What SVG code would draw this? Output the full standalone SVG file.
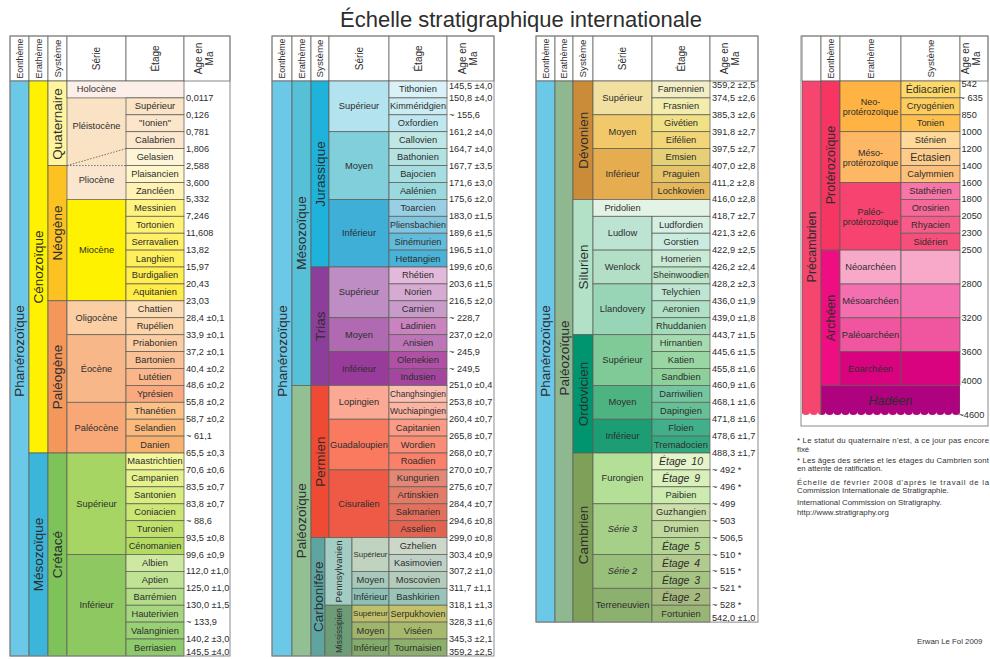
<svg xmlns="http://www.w3.org/2000/svg" width="990" height="659" viewBox="0 0 990 659">
<style>
text{font-family:"Liberation Sans",Arial,Helvetica,sans-serif;fill:#2d2d2d}
.c{stroke:#5f5f58;stroke-width:0.75}
.hd{fill:#fff;stroke:#5f5f58;stroke-width:0.75}
.fr{fill:none;stroke:#8a8a8a;stroke-width:1}
.t{font-size:9.3px;text-anchor:middle;dominant-baseline:central}
.sm{font-size:7.8px;text-anchor:middle;dominant-baseline:central}
.a{font-size:9.2px;dominant-baseline:central}
.v{font-size:13.5px;text-anchor:middle;dominant-baseline:central}
.h{font-size:8.5px;text-anchor:middle;dominant-baseline:central}
.hb{font-size:10px;text-anchor:middle;dominant-baseline:central}
.it{font-style:italic;font-size:10.5px;word-spacing:2px}
.itl{font-style:italic}
.n{font-size:7.8px;fill:#333}
.dot{stroke:#555;stroke-width:0.8;stroke-dasharray:1.6 1.4;fill:none}
</style>
<defs>
<clipPath id="wave-clip">
<path d="M802,81H960V412a3.95,3 0 0 1 -7.9,0a3.95,3 0 0 1 -7.9,0a3.95,3 0 0 1 -7.9,0a3.95,3 0 0 1 -7.9,0a3.95,3 0 0 1 -7.9,0a3.95,3 0 0 1 -7.9,0a3.95,3 0 0 1 -7.9,0a3.95,3 0 0 1 -7.9,0a3.95,3 0 0 1 -7.9,0a3.95,3 0 0 1 -7.9,0a3.95,3 0 0 1 -7.9,0a3.95,3 0 0 1 -7.9,0a3.95,3 0 0 1 -7.9,0a3.95,3 0 0 1 -7.9,0a3.95,3 0 0 1 -7.9,0a3.95,3 0 0 1 -7.9,0a3.95,3 0 0 1 -7.9,0a3.95,3 0 0 1 -7.9,0a3.95,3 0 0 1 -7.9,0a3.95,3 0 0 1 -7.9,0Z"/>
</clipPath>
</defs>
<rect width="990" height="659" fill="#fff"/>
<text id="title" x="521" y="27" font-size="22" text-anchor="middle" fill="#222">Échelle stratigraphique internationale</text>

<!-- ===== Column 1 : Cénozoïque / Crétacé ===== -->
<g id="table-1">
<g id="t1-header">
<rect class="hd" x="10" y="36" width="19" height="45"/><rect class="hd" x="29" y="36" width="19" height="45"/><rect class="hd" x="48" y="36" width="19" height="45"/><rect class="hd" x="67" y="36" width="59" height="45"/><rect class="hd" x="126" y="36" width="58" height="45"/><rect class="hd" x="184" y="36" width="46" height="45"/>
<text class="h" transform="translate(19.5 58.5) rotate(-90)" textLength="40" lengthAdjust="spacingAndGlyphs">Eonthème</text>
<text class="h" transform="translate(38.5 58.5) rotate(-90)" textLength="40" lengthAdjust="spacingAndGlyphs">Erathème</text>
<text class="h" transform="translate(57.5 58.5) rotate(-90)" textLength="38" lengthAdjust="spacingAndGlyphs">Système</text>
<text class="hb" transform="translate(96.5 58.5) rotate(-90)">Série</text>
<text class="hb" transform="translate(155 58.5) rotate(-90)">Étage</text>
<text class="hb" transform="translate(198.5 58.5) rotate(-90)">Age en</text>
<text class="hb" transform="translate(209.5 58.5) rotate(-90)">Ma</text>
</g>
<g id="ser-pleistocene"><rect x="67" y="97.9" width="59" height="67.7" fill="#FAE3C5"/><text class="t" x="96.5" y="126">Pléistocène</text></g>
<g id="ser-pliocene"><rect x="67" y="165.6" width="59" height="33.8" fill="#FAE6CF"/><text class="t" x="96.5" y="180">Pliocène</text></g>
<g id="eon-phanerozoic-1"><rect class="c" x="10" y="81" width="19" height="575" fill="#6CC8E7"/><text class="v" transform="translate(19.5 351) rotate(-90)">Phanérozoïque</text></g>
<g id="era-cenozoic"><rect class="c" x="29" y="81" width="19" height="372" fill="#FFF200"/><text class="v" transform="translate(38.5 267) rotate(-90)">Cénozoïque</text></g>
<g id="era-mesozoic-1"><rect class="c" x="29" y="453" width="19" height="203" fill="#3BB5D9"/><text class="v" fill="#143a60" transform="translate(38.5 554.5) rotate(-90)">Mésozoïque</text></g>
<g id="sys-quaternary"><rect class="c" x="48" y="81" width="19" height="84.6" fill="#FFF59E"/><text class="v" transform="translate(57.5 124) rotate(-90)">Quaternaire</text></g>
<g id="sys-neogene"><rect class="c" x="48" y="165.6" width="19" height="135.2" fill="#FBC222"/><text class="v" transform="translate(57.5 233) rotate(-90)">Néogène</text></g>
<g id="sys-paleogene"><rect class="c" x="48" y="300.8" width="19" height="152.2" fill="#F4975B"/><text class="v" transform="translate(57.5 377) rotate(-90)">Paléogène</text></g>
<g id="sys-cretaceous"><rect class="c" x="48" y="453" width="19" height="203" fill="#7DC35A"/><text class="v" fill="#1f4416" transform="translate(57.5 554.5) rotate(-90)">Crétacé</text></g>
<g id="ser-holocene"><rect class="c" x="67" y="81" width="117" height="16.9" fill="#FCEFE9"/><text class="t" x="96.5" y="89.45">Holocène</text></g>
<g id="ser-miocene"><rect class="c" x="67" y="199.4" width="59" height="101.4" fill="#FFF200"/><text class="t" x="96.5" y="250.1">Miocène</text></g>
<g id="ser-oligocene"><rect class="c" x="67" y="300.8" width="59" height="33.9" fill="#FBCFA3"/><text class="t" x="96.5" y="317.75">Oligocène</text></g>
<g id="ser-eocene"><rect class="c" x="67" y="334.7" width="59" height="67.6" fill="#F8B789"/><text class="t" x="96.5" y="368.5">Éocène</text></g>
<g id="ser-paleocene"><rect class="c" x="67" y="402.3" width="59" height="50.7" fill="#F8A877"/><text class="t" x="96.5" y="427.65">Paléocène</text></g>
<g id="ser-cretaceous-upper"><rect class="c" x="67" y="453" width="59" height="101.5" fill="#A6D563"/><text class="t" x="96.5" y="503.75">Supérieur</text></g>
<g id="ser-cretaceous-lower"><rect class="c" x="67" y="554.5" width="59" height="101.5" fill="#8DC860"/><text class="t" x="96.5" y="605.25">Inférieur</text></g>
<g id="st-upper-pleistocene"><rect class="c" x="126" y="97.9" width="58" height="16.9" fill="#FBE3C6"/><text class="t" x="155" y="106.35">Supérieur</text></g>
<g id="st-ionian"><rect class="c" x="126" y="114.8" width="58" height="16.9" fill="#FBE5CB"/><text class="t" x="155" y="123.25">&quot;Ionien&quot;</text></g>
<g id="st-calabrian"><rect class="c" x="126" y="131.7" width="58" height="16.9" fill="#FCE7CF"/><text class="t" x="155" y="140.15">Calabrien</text></g>
<g id="st-gelasian"><rect class="c" x="126" y="148.6" width="58" height="17" fill="#FEF5D8"/><text class="t" x="155" y="157.1">Gelasien</text></g>
<g id="st-piacenzian"><rect class="c" x="126" y="165.6" width="58" height="16.9" fill="#FFF7C9"/><text class="t" x="155" y="174.05">Plaisancien</text></g>
<g id="st-zanclean"><rect class="c" x="126" y="182.5" width="58" height="16.9" fill="#FFF2B4"/><text class="t" x="155" y="190.95">Zancléen</text></g>
<g id="st-messinian"><rect class="c" x="126" y="199.4" width="58" height="16.9" fill="#FFF380"/><text class="t" x="155" y="207.85">Messinien</text></g>
<g id="st-tortonian"><rect class="c" x="126" y="216.3" width="58" height="16.9" fill="#FFF272"/><text class="t" x="155" y="224.75">Tortonien</text></g>
<g id="st-serravallian"><rect class="c" x="126" y="233.2" width="58" height="16.9" fill="#FFF065"/><text class="t" x="155" y="241.65">Serravalien</text></g>
<g id="st-langhian"><rect class="c" x="126" y="250.1" width="58" height="16.9" fill="#FFEF5A"/><text class="t" x="155" y="258.55">Langhien</text></g>
<g id="st-burdigalian"><rect class="c" x="126" y="267" width="58" height="16.9" fill="#FFEE4E"/><text class="t" x="155" y="275.45">Burdigalien</text></g>
<g id="st-aquitanian"><rect class="c" x="126" y="283.9" width="58" height="16.9" fill="#FFEC44"/><text class="t" x="155" y="292.35">Aquitanien</text></g>
<g id="st-chattian"><rect class="c" x="126" y="300.8" width="58" height="16.9" fill="#FDDDB6"/><text class="t" x="155" y="309.25">Chattien</text></g>
<g id="st-rupelian"><rect class="c" x="126" y="317.7" width="58" height="17" fill="#FCD4A8"/><text class="t" x="155" y="326.2">Rupélien</text></g>
<g id="st-priabonian"><rect class="c" x="126" y="334.7" width="58" height="16.9" fill="#FCCCA2"/><text class="t" x="155" y="343.15">Priabonien</text></g>
<g id="st-bartonian"><rect class="c" x="126" y="351.6" width="58" height="16.9" fill="#FBC196"/><text class="t" x="155" y="360.05">Bartonien</text></g>
<g id="st-lutetian"><rect class="c" x="126" y="368.5" width="58" height="16.9" fill="#FAB58A"/><text class="t" x="155" y="376.95">Lutétien</text></g>
<g id="st-ypresian"><rect class="c" x="126" y="385.4" width="58" height="16.9" fill="#F8A97F"/><text class="t" x="155" y="393.85">Yprésien</text></g>
<g id="st-thanetian"><rect class="c" x="126" y="402.3" width="58" height="16.9" fill="#FBC186"/><text class="t" x="155" y="410.75">Thanétien</text></g>
<g id="st-selandian"><rect class="c" x="126" y="419.2" width="58" height="16.9" fill="#FBB97B"/><text class="t" x="155" y="427.65">Selandien</text></g>
<g id="st-danian"><rect class="c" x="126" y="436.1" width="58" height="16.9" fill="#FAB170"/><text class="t" x="155" y="444.55">Danien</text></g>
<g id="st-maastrichtian"><rect class="c" x="126" y="453" width="58" height="16.9" fill="#F2F799"/><text class="t" x="155" y="461.45">Maastrichtien</text></g>
<g id="st-campanian"><rect class="c" x="126" y="469.9" width="58" height="16.9" fill="#E5F28B"/><text class="t" x="155" y="478.35">Campanien</text></g>
<g id="st-santonian"><rect class="c" x="126" y="486.8" width="58" height="17" fill="#D9EC80"/><text class="t" x="155" y="495.3">Santonien</text></g>
<g id="st-coniacian"><rect class="c" x="126" y="503.8" width="58" height="16.9" fill="#CCE676"/><text class="t" x="155" y="512.25">Coniacien</text></g>
<g id="st-turonian"><rect class="c" x="126" y="520.7" width="58" height="16.9" fill="#BFE16B"/><text class="t" x="155" y="529.15">Turonien</text></g>
<g id="st-cenomanian"><rect class="c" x="126" y="537.6" width="58" height="16.9" fill="#B3DB62"/><text class="t" x="155" y="546.05">Cénomanien</text></g>
<g id="st-albian"><rect class="c" x="126" y="554.5" width="58" height="16.9" fill="#CDE8A1"/><text class="t" x="155" y="562.95">Albien</text></g>
<g id="st-aptian"><rect class="c" x="126" y="571.4" width="58" height="16.9" fill="#C0E294"/><text class="t" x="155" y="579.85">Aptien</text></g>
<g id="st-barremian"><rect class="c" x="126" y="588.3" width="58" height="16.9" fill="#B3DC89"/><text class="t" x="155" y="596.75">Barrémien</text></g>
<g id="st-hauterivian"><rect class="c" x="126" y="605.2" width="58" height="16.9" fill="#A6D67F"/><text class="t" x="155" y="613.65">Hauterivien</text></g>
<g id="st-valanginian"><rect class="c" x="126" y="622.1" width="58" height="16.9" fill="#99D075"/><text class="t" x="155" y="630.55">Valanginien</text></g>
<g id="st-berriasian"><rect class="c" x="126" y="639" width="58" height="17" fill="#8CCA6B"/><text class="t" x="155" y="647.5">Berriasien</text></g>
<g id="boundary-lines">
<line class="dot" x1="67" y1="165.6" x2="126" y2="165.6"/>
<line class="dot" x1="67" y1="165.6" x2="126" y2="148.6"/>
</g>
<rect class="fr" x="10" y="36" width="220" height="620"/>
<g id="t1-ages">
<text class="a" x="186" y="97.9">0,0117</text><text class="a" x="186" y="114.8">0,126</text><text class="a" x="186" y="131.7">0,781</text><text class="a" x="186" y="148.6">1,806</text><text class="a" x="186" y="165.6">2,588</text><text class="a" x="186" y="182.5">3,600</text><text class="a" x="186" y="199.4">5,332</text><text class="a" x="186" y="216.3">7,246</text><text class="a" x="186" y="233.2">11,608</text><text class="a" x="186" y="250.1">13,82</text><text class="a" x="186" y="267">15,97</text><text class="a" x="186" y="283.9">20,43</text><text class="a" x="186" y="300.8">23,03</text><text class="a" x="186" y="317.7">28,4 ±0,1</text><text class="a" x="186" y="334.7">33,9 ±0,1</text><text class="a" x="186" y="351.6">37,2 ±0,1</text><text class="a" x="186" y="368.5">40,4 ±0,2</text><text class="a" x="186" y="385.4">48,6 ±0,2</text><text class="a" x="186" y="402.3">55,8 ±0,2</text><text class="a" x="186" y="419.2">58,7 ±0,2</text><text class="a" x="186" y="436.1">~ 61,1</text><text class="a" x="186" y="453">65,5 ±0,3</text><text class="a" x="186" y="469.9">70,6 ±0,6</text><text class="a" x="186" y="486.8">83,5 ±0,7</text><text class="a" x="186" y="503.8">83,8 ±0,7</text><text class="a" x="186" y="520.7">~ 88,6</text><text class="a" x="186" y="537.6">93,5 ±0,8</text><text class="a" x="186" y="554.5">99,6 ±0,9</text><text class="a" x="186" y="571.4">112,0 ±1,0</text><text class="a" x="186" y="588.3">125,0 ±1,0</text><text class="a" x="186" y="605.2">130,0 ±1,5</text><text class="a" x="186" y="622.1">~ 133,9</text><text class="a" x="186" y="639">140,2 ±3,0</text><text class="a" x="186" y="651.5">145,5 ±4,0</text>
</g>
</g>

<!-- ===== Column 2 : Jurassique → Carbonifère ===== -->
<g id="table-2">
<g id="t2-header">
<rect class="hd" x="272" y="36" width="20" height="45"/><rect class="hd" x="292" y="36" width="19" height="45"/><rect class="hd" x="311" y="36" width="18" height="45"/><rect class="hd" x="329" y="36" width="60" height="45"/><rect class="hd" x="389" y="36" width="58" height="45"/><rect class="hd" x="447" y="36" width="47" height="45"/>
<text class="h" transform="translate(282 58.5) rotate(-90)" textLength="40" lengthAdjust="spacingAndGlyphs">Eonthème</text>
<text class="h" transform="translate(301.5 58.5) rotate(-90)" textLength="40" lengthAdjust="spacingAndGlyphs">Erathème</text>
<text class="h" transform="translate(320 58.5) rotate(-90)" textLength="38" lengthAdjust="spacingAndGlyphs">Système</text>
<text class="hb" transform="translate(359 58.5) rotate(-90)">Série</text>
<text class="hb" transform="translate(418 58.5) rotate(-90)">Étage</text>
<text class="hb" transform="translate(462 58.5) rotate(-90)">Age en</text>
<text class="hb" transform="translate(473 58.5) rotate(-90)">Ma</text>
</g>
<g id="eon-phanerozoic-2"><rect class="c" x="272" y="81" width="20" height="575" fill="#6CC8E7"/><text class="v" transform="translate(282 351) rotate(-90)">Phanérozoïque</text></g>
<g id="era-mesozoic-2"><rect class="c" x="292" y="81" width="19" height="304.4" fill="#55C0D6"/><text class="v" fill="#143a60" transform="translate(301.5 233) rotate(-90)">Mésozoïque</text></g>
<g id="era-paleozoic-2"><rect class="c" x="292" y="385.4" width="19" height="270.6" fill="#93C093"/><text class="v" fill="#263a24" transform="translate(301.5 520.7) rotate(-90)">Paléozoïque</text></g>
<g id="sys-jurassic"><rect class="c" x="311" y="81" width="18" height="186" fill="#1FB3DB"/><text class="v" fill="#0d3852" transform="translate(320 174) rotate(-90)">Jurassique</text></g>
<g id="sys-triassic"><rect class="c" x="311" y="267" width="18" height="118.4" fill="#8D3E9B"/><text class="v" fill="#2a0d33" transform="translate(320 326.2) rotate(-90)">Trias</text></g>
<g id="sys-permian"><rect class="c" x="311" y="385.4" width="18" height="152.2" fill="#EF4A33"/><text class="v" fill="#4a0f08" transform="translate(320 461.5) rotate(-90)">Permien</text></g>
<g id="sys-carboniferous"><rect class="c" x="311" y="537.6" width="14" height="118.4" fill="#5EA5A1"/><text class="v" fill="#123c3c" transform="translate(318.2 596.8) rotate(-90)">Carbonifère</text></g>
<g id="sub-pennsylvanian"><rect class="c" x="325" y="537.6" width="27" height="67.6" fill="#A3CDC3"/><text class="h" transform="translate(338.5 571.4) rotate(-90)" textLength="62" lengthAdjust="spacingAndGlyphs">Pennsylvanien</text></g>
<g id="sub-mississippian"><rect class="c" x="325" y="605.2" width="27" height="50.8" fill="#6C9D76"/><text class="h" transform="translate(338.5 630.6) rotate(-90)" textLength="45" lengthAdjust="spacingAndGlyphs">Mississipien</text></g>
<g id="ser-jurassic-upper"><rect class="c" x="329" y="81" width="60" height="50.7" fill="#B3E3EF"/><text class="t" x="359" y="106.35">Supérieur</text></g>
<g id="ser-jurassic-middle"><rect class="c" x="329" y="131.7" width="60" height="67.7" fill="#80CFDB"/><text class="t" x="359" y="165.55">Moyen</text></g>
<g id="ser-jurassic-lower"><rect class="c" x="329" y="199.4" width="60" height="67.6" fill="#3FAFD8"/><text class="t" x="359" y="233.2">Inférieur</text></g>
<g id="ser-triassic-upper"><rect class="c" x="329" y="267" width="60" height="50.7" fill="#BE8DC4"/><text class="t" x="359" y="292.35">Supérieur</text></g>
<g id="ser-triassic-middle"><rect class="c" x="329" y="317.7" width="60" height="33.9" fill="#B06AB2"/><text class="t" x="359" y="334.65">Moyen</text></g>
<g id="ser-triassic-lower"><rect class="c" x="329" y="351.6" width="60" height="33.8" fill="#983B9A"/><text class="t" x="359" y="368.5">Inférieur</text></g>
<g id="ser-lopingian"><rect class="c" x="329" y="385.4" width="60" height="33.8" fill="#FBA894"/><text class="t" x="359" y="402.3">Lopingien</text></g>
<g id="ser-guadalupian"><rect class="c" x="329" y="419.2" width="60" height="50.7" fill="#FA7A60"/><text class="t" x="359" y="444.5">Guadaloupien</text></g>
<g id="ser-cisuralian"><rect class="c" x="329" y="469.9" width="60" height="67.7" fill="#EF5A47"/><text class="t" x="359" y="503.75">Cisuralien</text></g>
<g id="ser-penn-upper"><rect class="c" x="352" y="537.6" width="37" height="33.8" fill="#C0D3C0"/><text class="sm" x="370.5" y="554.5">Supérieur</text></g>
<g id="ser-penn-middle"><rect class="c" x="352" y="571.4" width="37" height="16.9" fill="#A6C9BB"/><text class="t" x="370.5" y="579.85">Moyen</text></g>
<g id="ser-penn-lower"><rect class="c" x="352" y="588.3" width="37" height="16.9" fill="#8DC0B6"/><text class="t" x="370.5" y="596.75">Inférieur</text></g>
<g id="ser-miss-upper"><rect class="c" x="352" y="605.2" width="37" height="16.9" fill="#BEBF6B"/><text class="sm" x="370.5" y="613.65" textLength="35" lengthAdjust="spacingAndGlyphs">Supérieur</text></g>
<g id="ser-miss-middle"><rect class="c" x="352" y="622.1" width="37" height="16.9" fill="#9FB56C"/><text class="t" x="370.5" y="630.55">Moyen</text></g>
<g id="ser-miss-lower"><rect class="c" x="352" y="639" width="37" height="17" fill="#83AC6C"/><text class="t" x="370.5" y="647.5">Inférieur</text></g>
<g id="st-tithonian"><rect class="c" x="389" y="81" width="58" height="16.9" fill="#D9F1F7"/><text class="t" x="418" y="89.45">Tithonien</text></g>
<g id="st-kimmeridgian"><rect class="c" x="389" y="97.9" width="58" height="16.9" fill="#CCECF4"/><text class="t" x="418" y="106.35" textLength="56" lengthAdjust="spacingAndGlyphs">Kimméridgien</text></g>
<g id="st-oxfordian"><rect class="c" x="389" y="114.8" width="58" height="16.9" fill="#BFE7F1"/><text class="t" x="418" y="123.25">Oxfordien</text></g>
<g id="st-callovian"><rect class="c" x="389" y="131.7" width="58" height="16.9" fill="#BFE7E5"/><text class="t" x="418" y="140.15">Callovien</text></g>
<g id="st-bathonian"><rect class="c" x="389" y="148.6" width="58" height="17" fill="#B3E2E3"/><text class="t" x="418" y="157.1">Bathonien</text></g>
<g id="st-bajocian"><rect class="c" x="389" y="165.6" width="58" height="16.9" fill="#A6DDE0"/><text class="t" x="418" y="174.05">Bajocien</text></g>
<g id="st-aalenian"><rect class="c" x="389" y="182.5" width="58" height="16.9" fill="#9AD9DD"/><text class="t" x="418" y="190.95">Aalénien</text></g>
<g id="st-toarcian"><rect class="c" x="389" y="199.4" width="58" height="16.9" fill="#99CFE5"/><text class="t" x="418" y="207.85">Toarcien</text></g>
<g id="st-pliensbachian"><rect class="c" x="389" y="216.3" width="58" height="16.9" fill="#80C6E0"/><text class="t" x="418" y="224.75" textLength="56" lengthAdjust="spacingAndGlyphs">Pliensbachien</text></g>
<g id="st-sinemurian"><rect class="c" x="389" y="233.2" width="58" height="16.9" fill="#63BBDB"/><text class="t" x="418" y="241.65">Sinémurien</text></g>
<g id="st-hettangian"><rect class="c" x="389" y="250.1" width="58" height="16.9" fill="#48B2D7"/><text class="t" x="418" y="258.55">Hettangien</text></g>
<g id="st-rhaetian"><rect class="c" x="389" y="267" width="58" height="16.9" fill="#E3B9DB"/><text class="t" x="418" y="275.45">Rhétien</text></g>
<g id="st-norian"><rect class="c" x="389" y="283.9" width="58" height="16.9" fill="#D6AAD3"/><text class="t" x="418" y="292.35">Norien</text></g>
<g id="st-carnian"><rect class="c" x="389" y="300.8" width="58" height="16.9" fill="#C99BCB"/><text class="t" x="418" y="309.25">Carnien</text></g>
<g id="st-ladinian"><rect class="c" x="389" y="317.7" width="58" height="17" fill="#C983BF"/><text class="t" x="418" y="326.2">Ladinien</text></g>
<g id="st-anisian"><rect class="c" x="389" y="334.7" width="58" height="16.9" fill="#BC75B7"/><text class="t" x="418" y="343.15">Anisien</text></g>
<g id="st-olenekian"><rect class="c" x="389" y="351.6" width="58" height="16.9" fill="#B051A5"/><text class="t" x="418" y="360.05">Olenekien</text></g>
<g id="st-induan"><rect class="c" x="389" y="368.5" width="58" height="16.9" fill="#A4469F"/><text class="t" x="418" y="376.95">Indusien</text></g>
<g id="st-changhsingian"><rect class="c" x="389" y="385.4" width="58" height="16.9" fill="#FCC0B2"/><text class="t" x="418" y="393.85" textLength="56" lengthAdjust="spacingAndGlyphs">Changhsingien</text></g>
<g id="st-wuchiapingian"><rect class="c" x="389" y="402.3" width="58" height="16.9" fill="#FCB4A2"/><text class="t" x="418" y="410.75" textLength="56" lengthAdjust="spacingAndGlyphs">Wuchiapingien</text></g>
<g id="st-capitanian"><rect class="c" x="389" y="419.2" width="58" height="16.9" fill="#FB9A85"/><text class="t" x="418" y="427.65">Capitanien</text></g>
<g id="st-wordian"><rect class="c" x="389" y="436.1" width="58" height="16.9" fill="#FB8D76"/><text class="t" x="418" y="444.55">Wordien</text></g>
<g id="st-roadian"><rect class="c" x="389" y="453" width="58" height="16.9" fill="#FB8069"/><text class="t" x="418" y="461.45">Roadien</text></g>
<g id="st-kungurian"><rect class="c" x="389" y="469.9" width="58" height="16.9" fill="#E38776"/><text class="t" x="418" y="478.35">Kungurien</text></g>
<g id="st-artinskian"><rect class="c" x="389" y="486.8" width="58" height="17" fill="#E37B68"/><text class="t" x="418" y="495.3">Artinskien</text></g>
<g id="st-sakmarian"><rect class="c" x="389" y="503.8" width="58" height="16.9" fill="#E36F5C"/><text class="t" x="418" y="512.25">Sakmarien</text></g>
<g id="st-asselian"><rect class="c" x="389" y="520.7" width="58" height="16.9" fill="#E36350"/><text class="t" x="418" y="529.15">Asselien</text></g>
<g id="st-gzhelian"><rect class="c" x="389" y="537.6" width="58" height="16.9" fill="#CCD6C9"/><text class="t" x="418" y="546.05">Gzhelien</text></g>
<g id="st-kasimovian"><rect class="c" x="389" y="554.5" width="58" height="16.9" fill="#BFD1C7"/><text class="t" x="418" y="562.95">Kasimovien</text></g>
<g id="st-moscovian"><rect class="c" x="389" y="571.4" width="58" height="16.9" fill="#B3CCBC"/><text class="t" x="418" y="579.85">Moscovien</text></g>
<g id="st-bashkirian"><rect class="c" x="389" y="588.3" width="58" height="16.9" fill="#99C4B8"/><text class="t" x="418" y="596.75">Bashkirien</text></g>
<g id="st-serpukhovian"><rect class="c" x="389" y="605.2" width="58" height="16.9" fill="#C3C26B"/><text class="t" x="418" y="613.65" textLength="55" lengthAdjust="spacingAndGlyphs">Serpukhovien</text></g>
<g id="st-visean"><rect class="c" x="389" y="622.1" width="58" height="16.9" fill="#A6B96C"/><text class="t" x="418" y="630.55">Viséen</text></g>
<g id="st-tournaisian"><rect class="c" x="389" y="639" width="58" height="17" fill="#8CB06C"/><text class="t" x="418" y="647.5">Tournaisien</text></g>
<rect class="fr" x="272" y="36" width="222" height="620"/>
<g id="t2-ages">
<text class="a" x="449" y="86">145,5 ±4,0</text><text class="a" x="449" y="97.9">150,8 ±4,0</text><text class="a" x="449" y="114.8">~ 155,6</text><text class="a" x="449" y="131.7">161,2 ±4,0</text><text class="a" x="449" y="148.6">164,7 ±4,0</text><text class="a" x="449" y="165.6">167,7 ±3,5</text><text class="a" x="449" y="182.5">171,6 ±3,0</text><text class="a" x="449" y="199.4">175,6 ±2,0</text><text class="a" x="449" y="216.3">183,0 ±1,5</text><text class="a" x="449" y="233.2">189,6 ±1,5</text><text class="a" x="449" y="250.1">196,5 ±1,0</text><text class="a" x="449" y="267">199,6 ±0,6</text><text class="a" x="449" y="283.9">203,6 ±1,5</text><text class="a" x="449" y="300.8">216,5 ±2,0</text><text class="a" x="449" y="317.7">~ 228,7</text><text class="a" x="449" y="334.7">237,0 ±2,0</text><text class="a" x="449" y="351.6">~ 245,9</text><text class="a" x="449" y="368.5">~ 249,5</text><text class="a" x="449" y="385.4">251,0 ±0,4</text><text class="a" x="449" y="402.3">253,8 ±0,7</text><text class="a" x="449" y="419.2">260,4 ±0,7</text><text class="a" x="449" y="436.1">265,8 ±0,7</text><text class="a" x="449" y="453">268,0 ±0,7</text><text class="a" x="449" y="469.9">270,0 ±0,7</text><text class="a" x="449" y="486.8">275,6 ±0,7</text><text class="a" x="449" y="503.8">284,4 ±0,7</text><text class="a" x="449" y="520.7">294,6 ±0,8</text><text class="a" x="449" y="537.6">299,0 ±0,8</text><text class="a" x="449" y="554.5">303,4 ±0,9</text><text class="a" x="449" y="571.4">307,2 ±1,0</text><text class="a" x="449" y="588.3">311,7 ±1,1</text><text class="a" x="449" y="605.2">318,1 ±1,3</text><text class="a" x="449" y="622.1">328,3 ±1,6</text><text class="a" x="449" y="639">345,3 ±2,1</text><text class="a" x="449" y="651.5">359,2 ±2,5</text>
</g>
</g>

<!-- ===== Column 3 : Dévonien → Cambrien ===== -->
<g id="table-3">
<g id="t3-header">
<rect class="hd" x="536" y="36" width="19" height="45"/><rect class="hd" x="555" y="36" width="18" height="45"/><rect class="hd" x="573" y="36" width="20" height="45"/><rect class="hd" x="593" y="36" width="59" height="45"/><rect class="hd" x="652" y="36" width="58" height="45"/><rect class="hd" x="710" y="36" width="48" height="45"/>
<text class="h" transform="translate(545.5 58.5) rotate(-90)" textLength="40" lengthAdjust="spacingAndGlyphs">Eonthème</text>
<text class="h" transform="translate(564 58.5) rotate(-90)" textLength="40" lengthAdjust="spacingAndGlyphs">Erathème</text>
<text class="h" transform="translate(583 58.5) rotate(-90)" textLength="38" lengthAdjust="spacingAndGlyphs">Système</text>
<text class="hb" transform="translate(622.5 58.5) rotate(-90)">Série</text>
<text class="hb" transform="translate(681 58.5) rotate(-90)">Étage</text>
<text class="hb" transform="translate(724 58.5) rotate(-90)">Age en</text>
<text class="hb" transform="translate(735 58.5) rotate(-90)">Ma</text>
</g>
<g id="eon-phanerozoic-3"><rect class="c" x="536" y="81" width="19" height="541.1" fill="#6CC8E7"/><text class="v" transform="translate(545.5 351) rotate(-90)">Phanérozoïque</text></g>
<g id="era-paleozoic-3"><rect class="c" x="555" y="81" width="18" height="541.1" fill="#8FB890"/><text class="v" fill="#263a24" transform="translate(564 358) rotate(-90)">Paléozoïque</text></g>
<g id="sys-devonian"><rect class="c" x="573" y="81" width="20" height="118.4" fill="#CB8C39"/><text class="v" fill="#3d2406" transform="translate(583 140.2) rotate(-90)">Dévonien</text></g>
<g id="sys-silurian"><rect class="c" x="573" y="199.4" width="20" height="135.3" fill="#B3E1C7"/><text class="v" transform="translate(583 267) rotate(-90)">Silurien</text></g>
<g id="sys-ordovician"><rect class="c" x="573" y="334.7" width="20" height="118.3" fill="#00946F"/><text class="v" fill="#053d2c" transform="translate(583 393.9) rotate(-90)">Ordovicien</text></g>
<g id="sys-cambrian"><rect class="c" x="573" y="453" width="20" height="169.1" fill="#7FA059"/><text class="v" fill="#23331a" transform="translate(583 535) rotate(-90)">Cambrien</text></g>
<g id="ser-devonian-upper"><rect class="c" x="593" y="81" width="59" height="33.8" fill="#F1E0A0"/><text class="t" x="622.5" y="97.9">Supérieur</text></g>
<g id="ser-devonian-middle"><rect class="c" x="593" y="114.8" width="59" height="33.8" fill="#F1C86A"/><text class="t" x="622.5" y="131.7">Moyen</text></g>
<g id="ser-devonian-lower"><rect class="c" x="593" y="148.6" width="59" height="50.8" fill="#E5AC50"/><text class="t" x="622.5" y="174">Inférieur</text></g>
<g id="ser-pridoli"><rect class="c" x="593" y="199.4" width="117" height="16.9" fill="#E3F4E6"/><text class="t" x="622.5" y="207.85">Pridolien</text></g>
<g id="ser-ludlow"><rect class="c" x="593" y="216.3" width="59" height="33.8" fill="#BDE4D3"/><text class="t" x="622.5" y="233.2">Ludlow</text></g>
<g id="ser-wenlock"><rect class="c" x="593" y="250.1" width="59" height="33.8" fill="#B2DFC6"/><text class="t" x="622.5" y="267">Wenlock</text></g>
<g id="ser-llandovery"><rect class="c" x="593" y="283.9" width="59" height="50.8" fill="#98D5B6"/><text class="t" x="622.5" y="309.3">Llandovery</text></g>
<g id="ser-ordovician-upper"><rect class="c" x="593" y="334.7" width="59" height="50.7" fill="#80CA97"/><text class="t" x="622.5" y="360.05">Supérieur</text></g>
<g id="ser-ordovician-middle"><rect class="c" x="593" y="385.4" width="59" height="33.8" fill="#4DB481"/><text class="t" x="622.5" y="402.3">Moyen</text></g>
<g id="ser-ordovician-lower"><rect class="c" x="593" y="419.2" width="59" height="33.8" fill="#1C9D73"/><text class="t" x="622.5" y="436.1">Inférieur</text></g>
<g id="ser-furongian"><rect class="c" x="593" y="453" width="59" height="50.8" fill="#B3E096"/><text class="t" x="622.5" y="478.4">Furongien</text></g>
<g id="ser-series-3"><rect class="c" x="593" y="503.8" width="59" height="50.7" fill="#A6CF87"/><text class="t itl" x="622.5" y="529.15">Série 3</text></g>
<g id="ser-series-2"><rect class="c" x="593" y="554.5" width="59" height="33.8" fill="#99C07A"/><text class="t itl" x="622.5" y="571.4">Série 2</text></g>
<g id="ser-terreneuvian"><rect class="c" x="593" y="588.3" width="59" height="33.8" fill="#8CB06D"/><text class="t" x="622.5" y="605.2">Terreneuvien</text></g>
<g id="st-famennian"><rect class="c" x="652" y="81" width="58" height="16.9" fill="#F2EDC5"/><text class="t" x="681" y="89.45">Famennien</text></g>
<g id="st-frasnian"><rect class="c" x="652" y="97.9" width="58" height="16.9" fill="#F2EDAD"/><text class="t" x="681" y="106.35">Frasnien</text></g>
<g id="st-givetian"><rect class="c" x="652" y="114.8" width="58" height="16.9" fill="#F1E185"/><text class="t" x="681" y="123.25">Givétien</text></g>
<g id="st-eifelian"><rect class="c" x="652" y="131.7" width="58" height="16.9" fill="#F1D576"/><text class="t" x="681" y="140.15">Eifélien</text></g>
<g id="st-emsian"><rect class="c" x="652" y="148.6" width="58" height="17" fill="#E5D075"/><text class="t" x="681" y="157.1">Emsien</text></g>
<g id="st-pragian"><rect class="c" x="652" y="165.6" width="58" height="16.9" fill="#E5C468"/><text class="t" x="681" y="174.05">Praguien</text></g>
<g id="st-lochkovian"><rect class="c" x="652" y="182.5" width="58" height="16.9" fill="#E5B75A"/><text class="t" x="681" y="190.95">Lochkovien</text></g>
<g id="st-ludfordian"><rect class="c" x="652" y="216.3" width="58" height="16.9" fill="#D6EFE3"/><text class="t" x="681" y="224.75">Ludfordien</text></g>
<g id="st-gorstian"><rect class="c" x="652" y="233.2" width="58" height="16.9" fill="#CAEBDF"/><text class="t" x="681" y="241.65">Gorstien</text></g>
<g id="st-homerian"><rect class="c" x="652" y="250.1" width="58" height="16.9" fill="#C9EAD5"/><text class="t" x="681" y="258.55">Homerien</text></g>
<g id="st-sheinwoodian"><rect class="c" x="652" y="267" width="58" height="16.9" fill="#BDE5CA"/><text class="t" x="681" y="275.45" textLength="56" lengthAdjust="spacingAndGlyphs">Sheinwoodien</text></g>
<g id="st-telychian"><rect class="c" x="652" y="283.9" width="58" height="16.9" fill="#BDE5D2"/><text class="t" x="681" y="292.35">Telychien</text></g>
<g id="st-aeronian"><rect class="c" x="652" y="300.8" width="58" height="16.9" fill="#B0E0C6"/><text class="t" x="681" y="309.25">Aeronien</text></g>
<g id="st-rhuddanian"><rect class="c" x="652" y="317.7" width="58" height="17" fill="#A4DBBB"/><text class="t" x="681" y="326.2">Rhuddanien</text></g>
<g id="st-hirnantian"><rect class="c" x="652" y="334.7" width="58" height="16.9" fill="#A6DBAF"/><text class="t" x="681" y="343.15">Hirnantien</text></g>
<g id="st-katian"><rect class="c" x="652" y="351.6" width="58" height="16.9" fill="#99D6A4"/><text class="t" x="681" y="360.05">Katien</text></g>
<g id="st-sandbian"><rect class="c" x="652" y="368.5" width="58" height="16.9" fill="#8CD09A"/><text class="t" x="681" y="376.95">Sandbien</text></g>
<g id="st-darriwilian"><rect class="c" x="652" y="385.4" width="58" height="16.9" fill="#74C6A0"/><text class="t" x="681" y="393.85">Darriwilien</text></g>
<g id="st-dapingian"><rect class="c" x="652" y="402.3" width="58" height="16.9" fill="#66C096"/><text class="t" x="681" y="410.75">Dapingien</text></g>
<g id="st-floian"><rect class="c" x="652" y="419.2" width="58" height="16.9" fill="#41B08A"/><text class="t" x="681" y="427.65">Floien</text></g>
<g id="st-tremadocian"><rect class="c" x="652" y="436.1" width="58" height="16.9" fill="#33A981"/><text class="t" x="681" y="444.55">Tremadocien</text></g>
<g id="st-stage-10"><rect class="c" x="652" y="453" width="58" height="16.9" fill="#E6F5C9"/><text class="t it" x="681" y="461.45">Étage 10</text></g>
<g id="st-stage-9"><rect class="c" x="652" y="469.9" width="58" height="16.9" fill="#D9F0BB"/><text class="t it" x="681" y="478.35">Étage 9</text></g>
<g id="st-paibian"><rect class="c" x="652" y="486.8" width="58" height="17" fill="#CCEBAE"/><text class="t" x="681" y="495.3">Paibien</text></g>
<g id="st-guzhangian"><rect class="c" x="652" y="503.8" width="58" height="16.9" fill="#CCDFAA"/><text class="t" x="681" y="512.25">Guzhangien</text></g>
<g id="st-drumian"><rect class="c" x="652" y="520.7" width="58" height="16.9" fill="#BFD99D"/><text class="t" x="681" y="529.15">Drumien</text></g>
<g id="st-stage-5"><rect class="c" x="652" y="537.6" width="58" height="16.9" fill="#B3D492"/><text class="t it" x="681" y="546.05">Étage 5</text></g>
<g id="st-stage-4"><rect class="c" x="652" y="554.5" width="58" height="16.9" fill="#B3CA8E"/><text class="t it" x="681" y="562.95">Étage 4</text></g>
<g id="st-stage-3"><rect class="c" x="652" y="571.4" width="58" height="16.9" fill="#A6C583"/><text class="t it" x="681" y="579.85">Étage 3</text></g>
<g id="st-stage-2"><rect class="c" x="652" y="588.3" width="58" height="16.9" fill="#A6BA80"/><text class="t it" x="681" y="596.75">Étage 2</text></g>
<g id="st-fortunian"><rect class="c" x="652" y="605.2" width="58" height="16.9" fill="#99B575"/><text class="t" x="681" y="613.65">Fortunien</text></g>
<rect class="fr" x="536" y="36" width="222" height="586.1"/>
<g id="t3-ages">
<text class="a" x="712" y="85">359,2 ±2,5</text><text class="a" x="712" y="97.9">374,5 ±2,6</text><text class="a" x="712" y="114.8">385,3 ±2,6</text><text class="a" x="712" y="131.7">391,8 ±2,7</text><text class="a" x="712" y="148.6">397,5 ±2,7</text><text class="a" x="712" y="165.6">407,0 ±2,8</text><text class="a" x="712" y="182.5">411,2 ±2,8</text><text class="a" x="712" y="199.4">416,0 ±2,8</text><text class="a" x="712" y="216.3">418,7 ±2,7</text><text class="a" x="712" y="233.2">421,3 ±2,6</text><text class="a" x="712" y="250.1">422,9 ±2,5</text><text class="a" x="712" y="267">426,2 ±2,4</text><text class="a" x="712" y="283.9">428,2 ±2,3</text><text class="a" x="712" y="300.8">436,0 ±1,9</text><text class="a" x="712" y="317.7">439,0 ±1,8</text><text class="a" x="712" y="334.7">443,7 ±1,5</text><text class="a" x="712" y="351.6">445,6 ±1,5</text><text class="a" x="712" y="368.5">455,8 ±1,6</text><text class="a" x="712" y="385.4">460,9 ±1,6</text><text class="a" x="712" y="402.3">468,1 ±1,6</text><text class="a" x="712" y="419.2">471,8 ±1,6</text><text class="a" x="712" y="436.1">478,6 ±1,7</text><text class="a" x="712" y="453">488,3 ±1,7</text><text class="a" x="712" y="469.9">~ 492 *</text><text class="a" x="712" y="486.8">~ 496 *</text><text class="a" x="712" y="503.8">~ 499</text><text class="a" x="712" y="520.7">~ 503</text><text class="a" x="712" y="537.6">~ 506,5</text><text class="a" x="712" y="554.5">~ 510 *</text><text class="a" x="712" y="571.4">~ 515 *</text><text class="a" x="712" y="588.3">~ 521 *</text><text class="a" x="712" y="605.2">~ 528 *</text><text class="a" x="712" y="617.5">542,0 ±1,0</text>
</g>
</g>

<!-- ===== Column 4 : Précambrien ===== -->
<g id="table-4">
<g id="t4-header">
<rect class="hd" x="802" y="36" width="19" height="45"/><rect class="hd" x="821" y="36" width="19" height="45"/><rect class="hd" x="840" y="36" width="61" height="45"/><rect class="hd" x="901" y="36" width="59" height="45"/><rect class="hd" x="960" y="36" width="28" height="45"/>
<text class="h" transform="translate(830.5 58.5) rotate(-90)" textLength="40" lengthAdjust="spacingAndGlyphs">Eonthème</text>
<text class="h" transform="translate(870.5 58.5) rotate(-90)" textLength="40" lengthAdjust="spacingAndGlyphs">Erathème</text>
<text class="h" transform="translate(930.5 58.5) rotate(-90)" textLength="38" lengthAdjust="spacingAndGlyphs">Système</text>
<text class="hb" transform="translate(965 58.5) rotate(-90)">Age en</text>
<text class="hb" transform="translate(976 58.5) rotate(-90)">Ma</text>
</g>
<g clip-path="url(#wave-clip)">
<g id="eon-precambrian"><rect class="c" x="802" y="81" width="19" height="345" fill="#F5466F"/></g>
<g id="eon-hadean"><rect class="c" x="821" y="385.4" width="139" height="40" fill="#AE027E"/></g>
</g>
<text class="v" font-size="12.5" fill="#3d0a1a" transform="translate(811.5 247) rotate(-90)" style="font-size:12.5px">Précambrien</text>
<text id="label-hadean" x="890.5" y="401" text-anchor="middle" dominant-baseline="central" font-size="12.5" font-style="italic" fill="#640a4e">Hadéen</text>
<g id="eon-proterozoic"><rect class="c" x="821" y="81" width="19" height="169.1" fill="#F73563"/><text class="v" fill="#3d0a1a" style="font-size:12.5px" transform="translate(830.5 165) rotate(-90)">Protérozoïque</text></g>
<g id="eon-archean"><rect class="c" x="821" y="250.1" width="19" height="135.3" fill="#EE0E82"/><text class="v" fill="#3d0a2a" style="font-size:12.5px" transform="translate(830.5 318) rotate(-90)">Archéen</text></g>
<g id="era-neoproterozoic"><rect class="c" x="840" y="81" width="61" height="50.7" fill="#FEB342"/><text class="t" x="870.5" y="101.5" style="font-size:9px">Neo-</text><text class="t" x="870.5" y="111.5" style="font-size:9px">protérozoïque</text></g>
<g id="era-mesoproterozoic"><rect class="c" x="840" y="131.7" width="61" height="50.8" fill="#FDB765"/><text class="t" x="870.5" y="152.5" style="font-size:9px">Méso-</text><text class="t" x="870.5" y="163" style="font-size:9px">protérozoïque</text></g>
<g id="era-paleoproterozoic"><rect class="c" x="840" y="182.5" width="61" height="67.6" fill="#F74370"/><text class="t" x="870.5" y="211.5" style="font-size:9px">Paléo-</text><text class="t" x="870.5" y="222" style="font-size:9px">protérozoïque</text></g>
<g id="era-neoarchean"><rect class="c" x="840" y="250.1" width="61" height="33.9" fill="#F8A9CA"/><rect class="c" x="901" y="250.1" width="59" height="33.9" fill="#F8A9CA"/><text class="t" x="870.5" y="267" fill="#4a1a35">Néoarchéen</text></g>
<g id="era-mesoarchean"><rect class="c" x="840" y="284" width="61" height="33.8" fill="#F46FB0"/><rect class="c" x="901" y="284" width="59" height="33.8" fill="#F46FB0"/><text class="t" x="870.5" y="300.9" fill="#4a1035">Mésoarchéen</text></g>
<g id="era-paleoarchean"><rect class="c" x="840" y="317.8" width="61" height="33.8" fill="#F0559F"/><rect class="c" x="901" y="317.8" width="59" height="33.8" fill="#F0559F"/><text class="t" x="870.5" y="334.7" fill="#4a0a30">Paléoarchéen</text></g>
<g id="era-eoarchean"><rect class="c" x="840" y="351.6" width="61" height="33.8" fill="#DA037F"/><rect class="c" x="901" y="351.6" width="59" height="33.8" fill="#DA037F"/><text class="t" x="870.5" y="368.5" fill="#7a0a50">Eoarchéen</text></g>
<g id="sys-ediacaran"><rect class="c" x="901" y="81" width="59" height="16.9" fill="#FED96A"/><text class="t" x="930.5" y="89.45" style="font-size:10.5px">Édiacarien</text></g>
<g id="sys-cryogenian"><rect class="c" x="901" y="97.9" width="59" height="16.9" fill="#FECC5C"/><text class="t" x="930.5" y="106.35">Cryogénien</text></g>
<g id="sys-tonian"><rect class="c" x="901" y="114.8" width="59" height="16.9" fill="#FEBF4E"/><text class="t" x="930.5" y="123.25">Tonien</text></g>
<g id="sys-stenian"><rect class="c" x="901" y="131.7" width="59" height="16.9" fill="#FED99A"/><text class="t" x="930.5" y="140.15">Sténien</text></g>
<g id="sys-ectasian"><rect class="c" x="901" y="148.6" width="59" height="17" fill="#FDCC8A"/><text class="t" x="930.5" y="157.1" style="font-size:10.5px">Ectasien</text></g>
<g id="sys-calymmian"><rect class="c" x="901" y="165.6" width="59" height="16.9" fill="#FDC07A"/><text class="t" x="930.5" y="174.05">Calymmien</text></g>
<g id="sys-statherian"><rect class="c" x="901" y="182.5" width="59" height="16.9" fill="#F875A7"/><text class="t" x="930.5" y="190.95" fill="#5a1a30">Stathérien</text></g>
<g id="sys-orosirian"><rect class="c" x="901" y="199.4" width="59" height="16.9" fill="#F76898"/><text class="t" x="930.5" y="207.85" fill="#5a1a30">Orosirien</text></g>
<g id="sys-rhyacian"><rect class="c" x="901" y="216.3" width="59" height="16.9" fill="#F75B89"/><text class="t" x="930.5" y="224.75" fill="#5a1a30">Rhyacien</text></g>
<g id="sys-siderian"><rect class="c" x="901" y="233.2" width="59" height="16.9" fill="#F74F7C"/><text class="t" x="930.5" y="241.65" fill="#6a1030">Sidérien</text></g>
<rect class="fr" x="801" y="36" width="187" height="390"/>
<g id="t4-ages">
<text class="a" x="961.5" y="84">542</text><text class="a" x="959.5" y="97.9">~ 635</text><text class="a" x="961.5" y="114.8">850</text><text class="a" x="961.5" y="131.7">1000</text><text class="a" x="961.5" y="148.6">1200</text><text class="a" x="961.5" y="165.6">1400</text><text class="a" x="961.5" y="182.5">1600</text><text class="a" x="961.5" y="199.4">1800</text><text class="a" x="961.5" y="216.3">2050</text><text class="a" x="961.5" y="233.2">2300</text><text class="a" x="961.5" y="250.1">2500</text><text class="a" x="961.5" y="284">2800</text><text class="a" x="961.5" y="317.8">3200</text><text class="a" x="961.5" y="351.6">3600</text><text class="a" x="961.5" y="381">4000</text><text class="a" x="958.5" y="415">~4600</text>
</g>
</g>

<g id="notes">
<text class="n" x="797" y="443" textLength="192" lengthAdjust="spacing">* Le statut du quaternaire n'est, à ce jour pas encore</text>
<text class="n" x="797" y="452">fixé</text>
<text class="n" x="797" y="463" textLength="192" lengthAdjust="spacing">* Les âges des séries et les étages du Cambrien sont</text>
<text class="n" x="797" y="471">en attente de ratification.</text>
<text class="n" x="797" y="485" textLength="192" lengthAdjust="spacing">Échelle de février 2008 d'après le travail de la</text>
<text class="n" x="797" y="493">Commission Internationale de Stratigraphie.</text>
<text class="n" x="797" y="505">International Commission on Stratigraphy.</text>
<text class="n" x="797" y="515">http://www.stratigraphy.org</text>
</g>
<text id="credit" class="n" x="917" y="644">Erwan Le Fol 2009</text>
</svg>
